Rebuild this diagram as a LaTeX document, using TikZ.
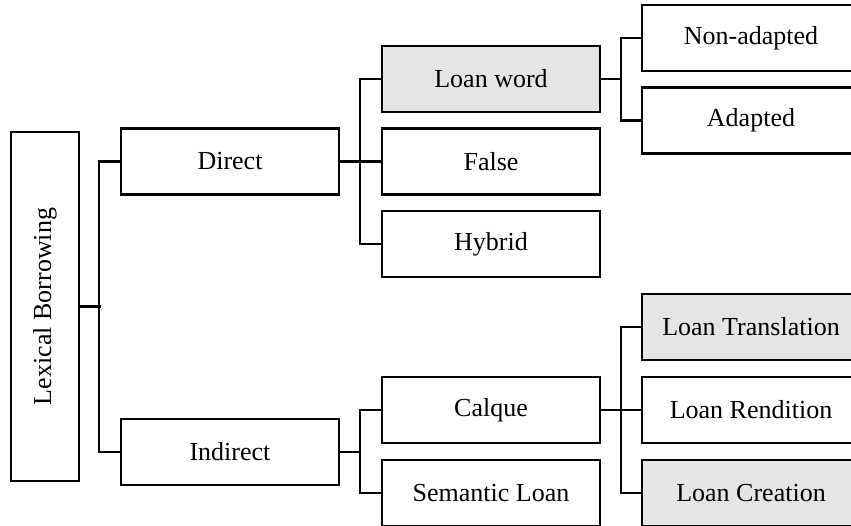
\documentclass[tikz,border=0pt]{standalone}
\usepackage{fontspec}
\setmainfont{Liberation Serif}
\begin{document}
\begin{tikzpicture}[x=1pt,y=-1pt,
  box/.style={draw, line width=2.2pt, minimum width=218pt, minimum height=66pt,
              inner sep=0pt, font=\fontsize{26}{30}\selectfont},
  shaded/.style={box, fill=black!10},
  link/.style={line width=2.2pt, line join=miter}]
\useasboundingbox (0,0) rectangle (851,525);
\clip (0,0) rectangle (851,525);

% root
\node[draw, line width=2.2pt, minimum width=68pt, minimum height=349pt, inner sep=0pt]
  (lb) at (45,306.5) {\rotatebox{90}{\fontsize{26}{30}\selectfont Lexical Borrowing}};

% level 1
\node[box] (direct) at (230,161.5) {Direct};
\node[box] (indirect) at (230,452) {Indirect};

% level 2
\node[shaded] (loanword) at (491,79) {Loan word};
\node[box] (false) at (491,161.5) {False};
\node[box] (hybrid) at (491,244) {Hybrid};
\node[box] (calque) at (491,410) {Calque};
\node[box] (semantic) at (491,493) {Semantic Loan};

% level 3
\node[box] (nonadapted) at (751,38) {Non-adapted};
\node[box] (adapted) at (751,120.5) {Adapted};
\node[shaded] (translation) at (751,327) {Loan Translation};
\node[box] (rendition) at (751,410) {Loan Rendition};
\node[shaded] (creation) at (751,493) {Loan Creation};

% connectors
\draw[link] (lb.east) -- ++(21,0);
\draw[link] (direct.west) -- ++(-21,0) |- (indirect.west);

\draw[link] (direct.east) -- ++(21,0);
\draw[link] (loanword.west) -- ++(-21,0) |- (hybrid.west);
\draw[link] (false.west) -- ++(-21,0);

\draw[link] (indirect.east) -- ++(21,0);
\draw[link] (calque.west) -- ++(-21,0) |- (semantic.west);

\draw[link] (loanword.east) -- ++(21,0);
\draw[link] (nonadapted.west) -- ++(-20,0) |- (adapted.west);

\draw[link] (calque.east) -- ++(21,0);
\draw[link] (translation.west) -- ++(-20,0) |- (creation.west);
\draw[link] (rendition.west) -- ++(-20,0);
\end{tikzpicture}
\end{document}
